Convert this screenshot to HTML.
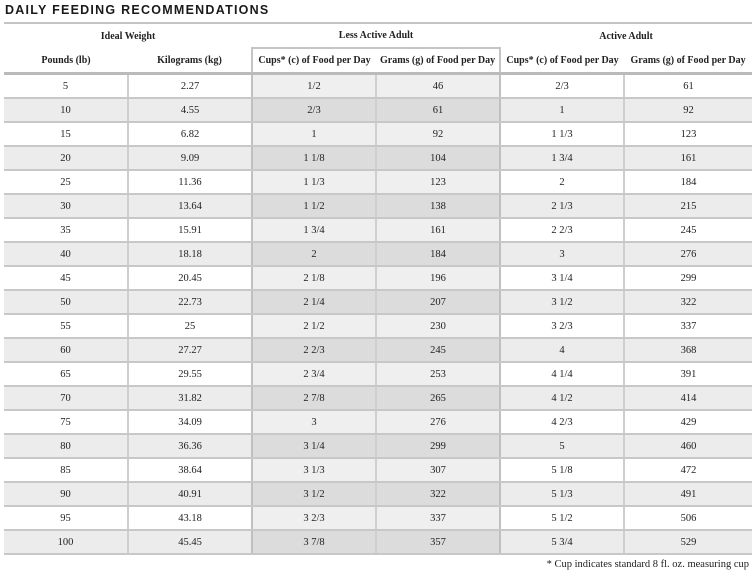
<!DOCTYPE html><html><head><style>
body{margin:0;width:755px;height:579px;background:#fff;position:relative;overflow:hidden;font-family:"Liberation Serif",serif;color:#222}
.t{position:absolute;left:5px;top:3px;font:bold 12.5px "Liberation Sans",sans-serif;letter-spacing:1.25px;color:#1a1a1a}
table{position:absolute;left:4px;top:22px;border-collapse:collapse;table-layout:fixed;width:748px;font-size:10.5px}
td{height:22px;padding:0;text-align:center;border-bottom:2px solid #c8c8c8;border-left:2px solid #cfcfcf}
td:first-child{border-left:none}
tr.h td{font-weight:bold;border-bottom:none;border-left:none;height:23px;font-size:10px}
tr.h2 td{border-bottom:3px solid #bbb}
tr.top td{border-top:2px solid #c4c4c4}
tr:nth-child(even) td{background:#ececec}
tr td:nth-child(3),tr td:nth-child(4){background:#efefef}
tr:nth-child(even) td:nth-child(3),tr:nth-child(even) td:nth-child(4){background:#dcdcdc}
tr.h td,tr.h2 td{background:#fff!important}
tr.h2 td.bx{border-top:2px solid #c4c4c4}
tr.h2 td.bl{border-left:2px solid #c4c4c4}
tr.h2 td.br{border-right:2px solid #c4c4c4}
td.bl{border-left:2px solid #c0c0c0}
td.br{border-right:2px solid #c0c0c0}
.f{position:absolute;right:6px;top:559px;font-size:10.5px}
</style></head><body>
<div class="t">DAILY FEEDING RECOMMENDATIONS</div>
<table>
<colgroup><col style="width:124px"><col style="width:124px"><col style="width:124px"><col style="width:124px"><col style="width:124px"><col style="width:128px"></colgroup>
<tr class="h top"><td colspan="2">Ideal Weight</td><td colspan="2">Less Active Adult</td><td colspan="2">Active Adult</td></tr>
<tr class="h h2"><td>Pounds (lb)</td><td>Kilograms (kg)</td><td class="bx bl">Cups* (c) of Food per Day</td><td class="bx br">Grams (g) of Food per Day</td><td>Cups* (c) of Food per Day</td><td>Grams (g) of Food per Day</td></tr>
<tr><td>5</td><td>2.27</td><td class="bl">1/2</td><td class="br">46</td><td>2/3</td><td>61</td></tr>
<tr><td>10</td><td>4.55</td><td class="bl">2/3</td><td class="br">61</td><td>1</td><td>92</td></tr>
<tr><td>15</td><td>6.82</td><td class="bl">1</td><td class="br">92</td><td>1 1/3</td><td>123</td></tr>
<tr><td>20</td><td>9.09</td><td class="bl">1 1/8</td><td class="br">104</td><td>1 3/4</td><td>161</td></tr>
<tr><td>25</td><td>11.36</td><td class="bl">1 1/3</td><td class="br">123</td><td>2</td><td>184</td></tr>
<tr><td>30</td><td>13.64</td><td class="bl">1 1/2</td><td class="br">138</td><td>2 1/3</td><td>215</td></tr>
<tr><td>35</td><td>15.91</td><td class="bl">1 3/4</td><td class="br">161</td><td>2 2/3</td><td>245</td></tr>
<tr><td>40</td><td>18.18</td><td class="bl">2</td><td class="br">184</td><td>3</td><td>276</td></tr>
<tr><td>45</td><td>20.45</td><td class="bl">2 1/8</td><td class="br">196</td><td>3 1/4</td><td>299</td></tr>
<tr><td>50</td><td>22.73</td><td class="bl">2 1/4</td><td class="br">207</td><td>3 1/2</td><td>322</td></tr>
<tr><td>55</td><td>25</td><td class="bl">2 1/2</td><td class="br">230</td><td>3 2/3</td><td>337</td></tr>
<tr><td>60</td><td>27.27</td><td class="bl">2 2/3</td><td class="br">245</td><td>4</td><td>368</td></tr>
<tr><td>65</td><td>29.55</td><td class="bl">2 3/4</td><td class="br">253</td><td>4 1/4</td><td>391</td></tr>
<tr><td>70</td><td>31.82</td><td class="bl">2 7/8</td><td class="br">265</td><td>4 1/2</td><td>414</td></tr>
<tr><td>75</td><td>34.09</td><td class="bl">3</td><td class="br">276</td><td>4 2/3</td><td>429</td></tr>
<tr><td>80</td><td>36.36</td><td class="bl">3 1/4</td><td class="br">299</td><td>5</td><td>460</td></tr>
<tr><td>85</td><td>38.64</td><td class="bl">3 1/3</td><td class="br">307</td><td>5 1/8</td><td>472</td></tr>
<tr><td>90</td><td>40.91</td><td class="bl">3 1/2</td><td class="br">322</td><td>5 1/3</td><td>491</td></tr>
<tr><td>95</td><td>43.18</td><td class="bl">3 2/3</td><td class="br">337</td><td>5 1/2</td><td>506</td></tr>
<tr><td>100</td><td>45.45</td><td class="bl">3 7/8</td><td class="br">357</td><td>5 3/4</td><td>529</td></tr>
</table>
<div class="f">* Cup indicates standard 8 fl. oz. measuring cup</div>
</body></html>
